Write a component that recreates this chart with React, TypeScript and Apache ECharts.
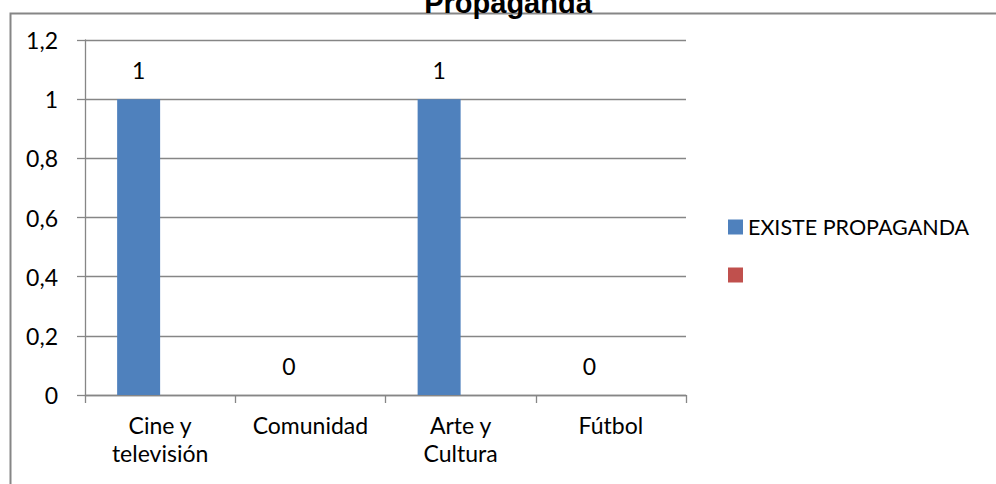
import React, { useEffect, useRef } from "react";
import * as echarts from "echarts";

const categories = ["Cine y\ntelevisión", "Comunidad", "Arte y\nCultura", "Fútbol"];
const existePropaganda = [1, 0, 1, 0];
const emptySeries: (number | null)[] = [null, null, null, null];
const seriesNames = ["EXISTE PROPAGANDA", " "];
const titleText = "Propaganda";
const yMin = 0;
const yMax = 1.2;
const yInterval = 0.2;

const FONT = "Lato, 'Open Sans', sans-serif";
const GRAY = "#868686";

export default function App() {
  const ref = useRef<HTMLDivElement>(null);
  useEffect(() => {
    if (!ref.current) return;
    const chart = echarts.init(ref.current, null, { renderer: "svg" });
    chart.setOption({
      animation: false,
      backgroundColor: "#ffffff",
      graphic: [
        {
          type: "rect",
          left: 8,
          top: 11,
          shape: { x: 0, y: 0, width: 1100, height: 600 },
          style: { fill: "none", stroke: GRAY, lineWidth: 2 },
          z: -1,
          silent: true,
        },
        {
          type: "text",
          x: 508,
          y: 17,
          z: 10,
          silent: true,
          style: {
            text: titleText,
            align: "center",
            verticalAlign: "bottom",
            fontFamily: "'Liberation Sans', Arial, sans-serif",
            fontWeight: "bold",
            fontSize: 29,
            fill: "#000000",
          },
        },
      ],
      grid: { left: 85, right: 310, top: 40, bottom: 89, containLabel: false },
      legend: {
        orient: "vertical",
        left: 728,
        top: 216,
        itemWidth: 15,
        itemHeight: 15,
        itemGap: 26,
        padding: 0,
        icon: "rect",
        data: seriesNames,
        textStyle: { fontFamily: FONT, fontSize: 21.5, color: "#000000", lineHeight: 22 },
      },
      xAxis: {
        type: "category",
        data: categories,
        boundaryGap: true,
        axisLine: { lineStyle: { color: GRAY, width: 1.3 } },
        axisTick: { show: true, length: 8, alignWithLabel: false, lineStyle: { color: GRAY, width: 1.3 } },
        axisLabel: {
          interval: 0,
          margin: 16,
          fontFamily: FONT,
          fontSize: 23,
          lineHeight: 28,
          color: "#000000",
        },
      },
      yAxis: {
        type: "value",
        min: yMin,
        max: yMax,
        interval: yInterval,
        axisLine: { show: true, lineStyle: { color: GRAY, width: 1.3 } },
        axisTick: { show: true, length: 8, lineStyle: { color: GRAY, width: 1.3 } },
        splitLine: { show: true, lineStyle: { color: GRAY, width: 1.3 } },
        axisLabel: {
          margin: 27,
          fontFamily: FONT,
          fontSize: 23,
          color: "#000000",
          formatter: (v: number) => String(Number(v.toFixed(1))).replace(".", ","),
        },
      },
      series: [
        {
          name: seriesNames[0],
          type: "bar",
          data: existePropaganda,
          barWidth: 43,
          barGap: "0%",
          itemStyle: { color: "#4F81BD" },
          label: {
            show: true,
            position: "top",
            distance: 18,
            fontFamily: FONT,
            fontSize: 23,
            color: "#000000",
          },
        },
        {
          name: seriesNames[1],
          type: "bar",
          data: emptySeries,
          barWidth: 43,
          barGap: "0%",
          itemStyle: { color: "#C0504D" },
        },
      ],
    });
    return () => chart.dispose();
  }, []);
  return (
    <div
      ref={ref}
      style={{ position: "absolute", left: 0, top: 0, width: 996, height: 484 }}
    />
  );
}
